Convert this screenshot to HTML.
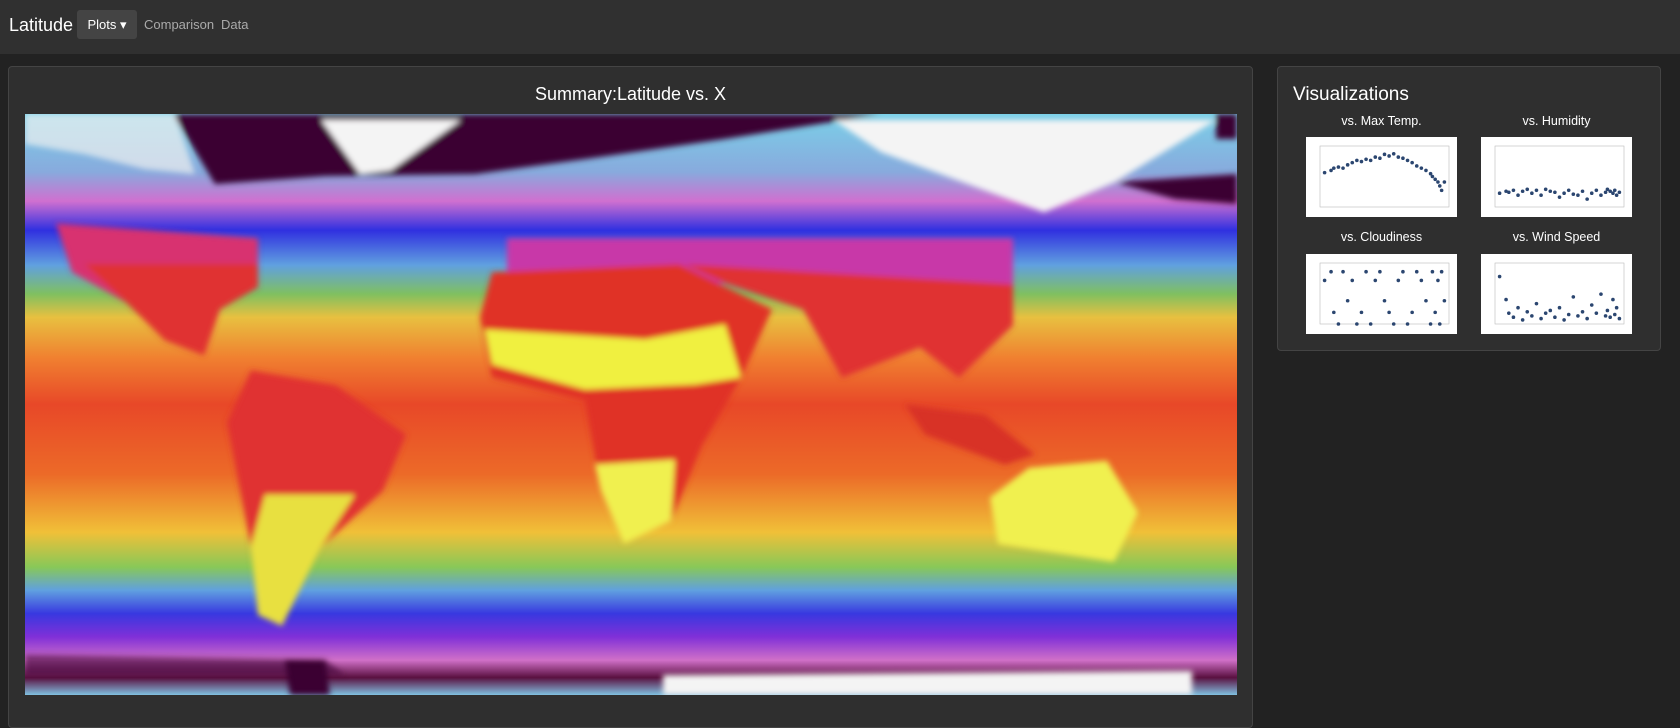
<!DOCTYPE html>
<html><head><meta charset="utf-8">
<style>
body{margin:0;width:1680px;height:710px;overflow:hidden;background:#222;font-family:"Liberation Sans",sans-serif;position:relative}
.nav{position:absolute;left:0;top:0;width:1680px;height:54px;background:#303030}
.brand{position:absolute;left:9px;top:15px;font-size:18px;color:#fff}
.plots{position:absolute;left:77px;top:10px;width:60px;height:29px;background:#444;border-radius:3px;color:#fff;font-size:13px;line-height:29px;text-align:center}
.link{position:absolute;top:17px;font-size:13px;color:#aaa}
.panel{position:absolute;background:#2f2f2f;border:1px solid #444;border-radius:4px}
.ttl{position:absolute;color:#fff;font-size:18px}
.lbl{position:absolute;color:#fff;font-size:12.5px;text-align:center;width:151px}
.thumb{position:absolute;background:#fff;width:151px;height:80px}
</style></head><body>
<div class="nav">
<div class="brand">Latitude</div>
<div class="plots">Plots ▾</div>
<div class="link" style="left:144px">Comparison</div>
<div class="link" style="left:221px">Data</div>
</div>
<div class="panel" style="left:8px;top:66px;width:1243px;height:660px">
<div class="ttl" style="left:0;width:1243px;text-align:center;top:17px">Summary:Latitude vs. X</div>
</div>
<svg style="position:absolute;left:25px;top:114px" width="1212" height="581" viewBox="0 0 1212 580" preserveAspectRatio="none">
<defs>
<linearGradient id="g" x1="0" y1="0" x2="0" y2="1">
<stop offset="0" stop-color="#7ad0e8"/><stop offset="0.1" stop-color="#8ad"/>
<stop offset="0.15" stop-color="#d070d0"/><stop offset="0.2" stop-color="#3030e0"/>
<stop offset="0.26" stop-color="#60a0e0"/><stop offset="0.31" stop-color="#80c060"/>
<stop offset="0.35" stop-color="#e8c040"/><stop offset="0.42" stop-color="#f08030"/>
<stop offset="0.5" stop-color="#e84828"/><stop offset="0.62" stop-color="#ec6a28"/>
<stop offset="0.72" stop-color="#f0c038"/><stop offset="0.78" stop-color="#88c858"/>
<stop offset="0.82" stop-color="#60a0e0"/><stop offset="0.86" stop-color="#3838e0"/>
<stop offset="0.9" stop-color="#8030d8"/><stop offset="0.94" stop-color="#d070c8"/>
<stop offset="0.97" stop-color="#5a1040"/><stop offset="1" stop-color="#80c0e0"/>
</linearGradient>
<filter id="b" x="-5%" y="-5%" width="110%" height="110%"><feGaussianBlur stdDeviation="3"/></filter>
</defs>
<rect width="1212" height="580" fill="url(#g)"/>
<g filter="url(#b)">
<polygon points="148,0 856,0 700,25 560,45 450,60 300,62 190,70" fill="#3a0630"/>
<polygon points="0,0 150,0 170,60 120,55 60,40 0,30" fill="#f0f0f0" opacity="0.7"/>
<polygon points="296,6 436,6 366,56 335,60" fill="#f4f4f4"/>
<polygon points="809,6 1191,6 1090,68 1019,98 856,38" fill="#f4f4f4"/>
<polygon points="1090,68 1212,60 1212,90 1150,85" fill="#3a0630"/>
<polygon points="1191,0 1212,0 1212,25 1191,25" fill="#3a0630"/>
<polygon points="31,109 233,124 233,173 195,195 179,241 140,226 101,188 47,158" fill="#d83070"/>
<polygon points="60,150 233,150 233,173 195,195 179,241 140,226 101,188" fill="#e03030"/>
<polygon points="482,124 988,124 988,211 934,263 895,233 817,263 778,195 700,169 482,165" fill="#c838a8"/>
<polygon points="660,150 988,170 988,211 934,263 895,233 817,263 778,195 700,169" fill="#e03030"/>
<polygon points="467,158 654,150 747,195 716,263 677,331 646,406 599,429 576,376 560,286 467,263 455,203" fill="#e03028"/>
<polygon points="460,215 620,225 700,210 716,263 670,270 560,275 467,250" fill="#f0f040"/>
<polygon points="570,350 650,345 646,406 599,429 576,376" fill="#f0f050"/>
<polygon points="226,256 311,271 381,320 358,376 296,432 257,511 233,500 226,432 202,308" fill="#e03030"/>
<polygon points="240,380 330,380 296,432 257,511 233,500 226,432" fill="#e8e040"/>
<polygon points="1004,353 1082,346 1113,398 1089,447 973,429 965,383" fill="#f0f050"/>
<polygon points="880,290 960,300 1010,340 980,350 900,320" fill="#d83028"/>
<polygon points="0,540 300,545 320,560 0,560" fill="#3a0630" opacity="0.6"/>
<polygon points="260,545 300,545 305,580 265,580" fill="#3a0630"/>
<polygon points="638,560 1167,556 1167,580 638,580" fill="#f4f4f4"/>
</g>
</svg>
<div class="panel" style="left:1277px;top:66px;width:382px;height:283px">
<div class="ttl" style="left:15px;top:17px;font-size:19px">Visualizations</div>
</div>
<div class="lbl" style="left:1306px;top:114px">vs. Max Temp.</div>
<div class="lbl" style="left:1481px;top:114px">vs. Humidity</div>
<div class="lbl" style="left:1306px;top:230px">vs. Cloudiness</div>
<div class="lbl" style="left:1481px;top:230px">vs. Wind Speed</div>
<svg class="thumb" id="t0" style="left:1306px;top:137px"></svg>
<svg class="thumb" id="t1" style="left:1481px;top:137px"></svg>
<svg class="thumb" id="t2" style="left:1306px;top:254px"></svg>
<svg class="thumb" id="t3" style="left:1481px;top:254px"></svg>
<script>
const lats=[-55,-48,-45,-40,-35,-30,-25,-20,-15,-10,-5,0,5,10,15,20,25,30,35,40,45,50,55,60,62,65,68,70,72,75];
const tempVals=[62,66,70,72,70,76,80,84,82,86,84,90,88,95,92,96,90,88,84,80,74,70,66,60,55,50,45,38,30,45];
const humVals=[70,80,75,85,60,80,90,70,85,60,90,80,75,50,70,85,65,60,80,40,70,85,60,75,90,80,70,85,60,75];
const cloudVals=[75,90,20,0,90,40,75,0,20,90,0,75,90,40,20,0,75,90,0,20,90,75,40,0,90,20,75,0,90,40];
const windVals=[35,18,8,5,12,3,9,6,15,4,8,10,5,12,3,7,20,6,9,4,14,8,22,6,10,5,18,7,12,4];
const series=[[tempVals,0,110],[humVals,0,310],[cloudVals,0,105],[windVals,0,45]];
series.forEach((s,i)=>{
 const svg=document.getElementById('t'+i);const ns='http://www.w3.org/2000/svg';
 const x0=14,x1=143,y0=9,y1=70;
 const fx=v=>x0+(v+60)/140*(x1-x0);const fy=v=>y1-(v-s[1])/(s[2]-s[1])*(y1-y0);
 const r=document.createElementNS(ns,'rect');
 r.setAttribute('x',x0);r.setAttribute('y',y0);r.setAttribute('width',x1-x0);r.setAttribute('height',y1-y0);
 r.setAttribute('fill','none');r.setAttribute('stroke','#bbb');r.setAttribute('stroke-width','0.6');
 
 
 svg.appendChild(r);
 lats.forEach((l,j)=>{
  const c=document.createElementNS(ns,'circle');
  c.setAttribute('cx',fx(l));c.setAttribute('cy',fy(s[0][j]));c.setAttribute('r','1.8');c.setAttribute('fill','#2b4670');
  
  
  svg.appendChild(c);
 });
});
</script>
</body></html>
